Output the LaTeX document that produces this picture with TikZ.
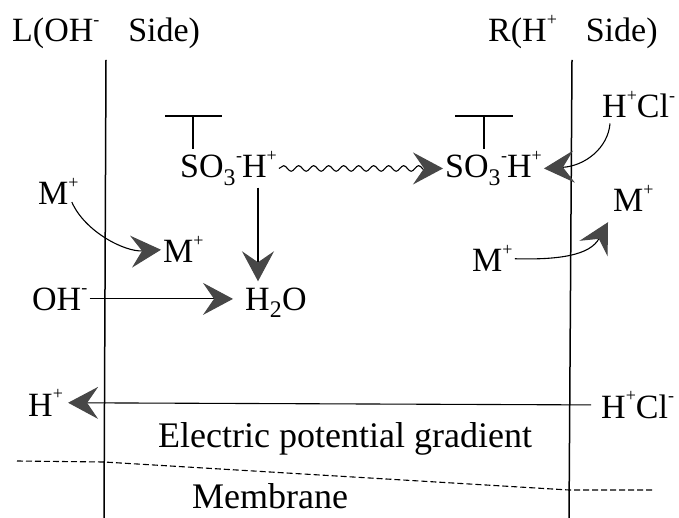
\documentclass[tikz,border=0pt]{standalone}
\usepackage{fontspec}
\setmainfont{Liberation Serif}
\usetikzlibrary{arrows.meta,decorations.pathmorphing}
\newcommand\myup[1]{\raisebox{0.48em}{\fontsize{18}{18}\selectfont #1}}
\newcommand\mydn[1]{\textsubscript{#1}}
\begin{document}
\begin{tikzpicture}[x=1pt,y=-1pt,
  lbl/.style={font=\fontsize{34}{40}\selectfont, inner sep=2pt, anchor=base west},
  big/.style={font=\fontsize{36}{42}\selectfont, inner sep=2pt, anchor=base west},
  memline/.style={line width=1.5pt},
  conn/.style={line width=1.1pt},
  head/.style={-{Stealth[length=30pt,width=32pt,inset=11pt,color=black!72]}},
  tbar/.style={line width=1.3pt}
]
\useasboundingbox (0,0) rectangle (679,518);
% labels
\node[lbl] (lt) at (10,42) {L(OH\myup{-}\hspace{0.6em} Side)};
\node[lbl] (rt) at (486,42) {R(H\myup{+}\hspace{0.6em} Side)};
\node[lbl] (sL) at (178,178) {SO\mydn{3}\myup{-}H\myup{+}};
\node[lbl] (sR) at (443,178) {SO\mydn{3}\myup{-}H\myup{+}};
\node[lbl] (hcT) at (600,118) {H\myup{+}Cl\myup{-}};
\node[lbl] (m1) at (36,205) {M\myup{+}};
\node[lbl] (m2) at (161,263) {M\myup{+}};
\node[lbl] (oh) at (30,310) {OH\myup{-}};
\node[lbl] (w) at (243,310) {H\mydn{2}O};
\node[lbl] (m3) at (611,212) {M\myup{+}};
\node[lbl] (m4) at (470,272) {M\myup{+}};
\node[lbl] (hL) at (26,416) {H\myup{+}};
\node[lbl] (hcB) at (599,418) {H\myup{+}Cl\myup{-}};
\node[big] (epg) at (156,447) {Electric potential gradient};
\node[big] (mem) at (190,508) {Membrane};
% membrane walls
\coordinate (lTop) at (106,60);
\coordinate (lBot) at (104,518);
\coordinate (rTop) at (572,60);
\coordinate (rBot) at (569,518);
\draw[memline] (lTop) -- (lBot);
\draw[memline] (rTop) -- (rBot);
% dashed membrane boundary
\coordinate (d1) at (17,461);
\coordinate (d2) at (104,462);
\coordinate (d3) at (569,490);
\coordinate (d4) at (654,490);
\draw[line width=1.1pt, dash pattern=on 6pt off 3pt] (d1) -- (d2) -- (d3) -- (d4);
% T bars
\coordinate (tLa) at (165,116);
\coordinate (tLb) at (222,116);
\coordinate (tLc) at (193,116);
\coordinate (tRa) at (455,116);
\coordinate (tRb) at (513,116);
\coordinate (tRc) at (484,116);
\draw[tbar] (tLa) -- (tLb);
\draw[tbar] (tLc) -- (tLc |- sL.north);
\draw[tbar] (tRa) -- (tRb);
\draw[tbar] (tRc) -- (tRc |- sR.north);
% wavy transfer
\draw[conn, head, decorate, decoration={snake,amplitude=2.8pt,segment length=15pt,post length=6pt}]
  (sL.east) -- (sR.west);
% H+Cl- to right SO3H
\draw[conn, head] ([xshift=10pt,yshift=-3pt]hcT.south west) .. controls (608,148) and (585,166) .. (sR.east);
% left M+ curve
\draw[conn, head] ([xshift=-9pt,yshift=3pt]m1.base east) .. controls (85,232) and (125,252) .. (m2.west);
% OH- to H2O
\draw[conn, head, shorten >=10pt] (oh.east) -- (oh.east -| w.west);
% SO3H to H2O
\draw[conn, head] ([xshift=80pt]sL.south west) -- ([xshift=15pt,yshift=4pt]w.north west);
% right M+ curve
\draw[conn, head] (m4.east) .. controls (560,260) and (590,255) .. ([xshift=-3pt,yshift=-8pt]m3.south west);
% potential gradient arrow
\draw[conn, head] ([xshift=-8pt]hcB.west) -- ([xshift=3pt]hL.east);
\end{tikzpicture}
\end{document}
